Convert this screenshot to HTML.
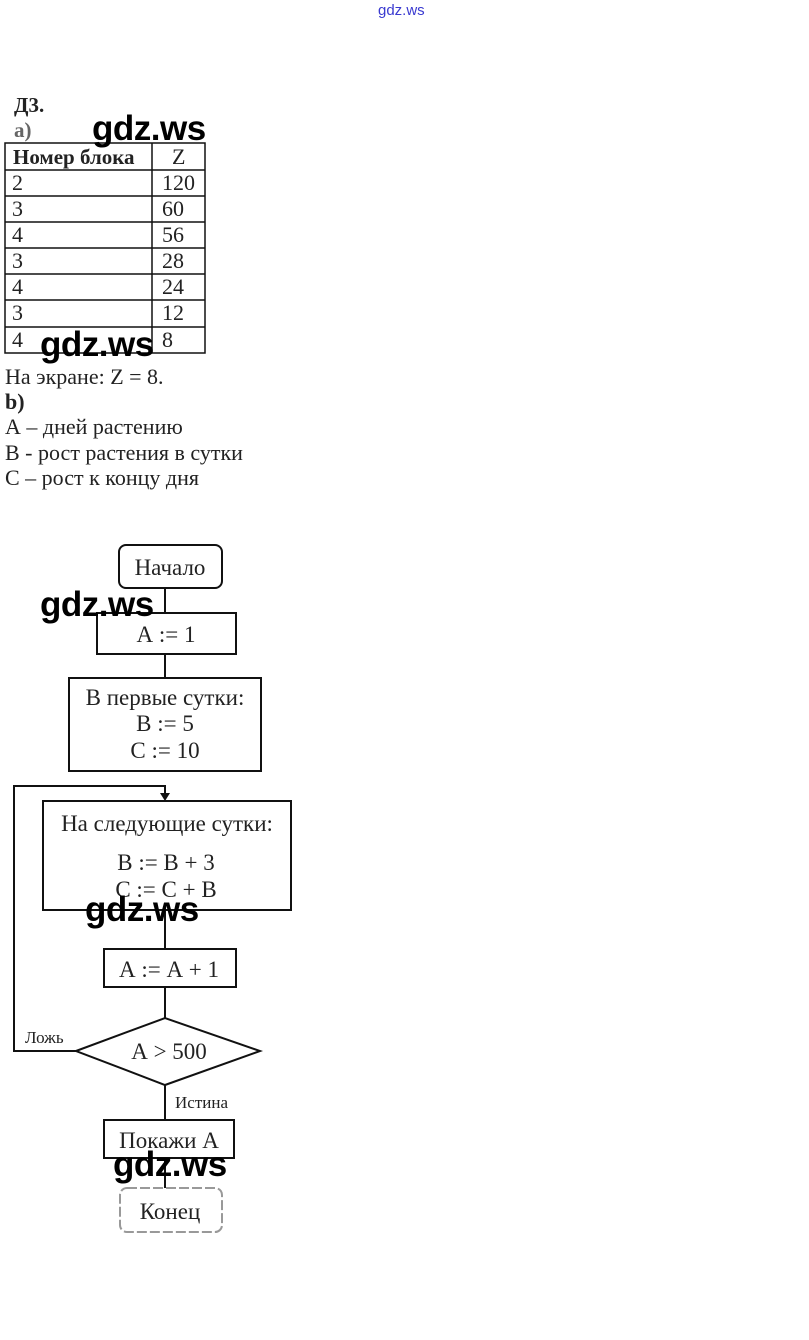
<!DOCTYPE html>
<html><head><meta charset="utf-8"><style>
html,body{margin:0;padding:0;background:#fff;}
body{width:809px;height:1340px;position:relative;overflow:hidden;font-family:"Liberation Serif","DejaVu Serif",serif;color:#222;}
.t{position:absolute;font-size:20px;line-height:1;white-space:nowrap;}
.w{position:absolute;font-family:"Liberation Sans","DejaVu Sans",sans-serif;font-weight:bold;font-size:35px;color:#000;line-height:1;white-space:nowrap;letter-spacing:-0.5px;}
svg{position:absolute;left:0;top:0;}
svg text{font-family:"Liberation Serif","DejaVu Serif",serif;fill:#222;}
</style></head><body>
<div class="t" style="left:378px;top:3px;font-family:'Liberation Sans',sans-serif;font-size:15px;color:#3a3ad0;">gdz.ws</div>
<div class="t" style="left:14px;top:95px;font-weight:bold;font-size:21px;">Д3.</div>
<div class="t" style="left:14px;top:120px;font-weight:bold;color:#666;font-size:21px;">а)</div>
<svg width="809" height="1340" viewBox="0 0 809 1340">
<g stroke="#111" stroke-width="1.5" fill="none">
<rect x="5" y="143" width="200" height="210"/>
<line x1="152" y1="143" x2="152" y2="353"/>
<line x1="5" y1="170" x2="205" y2="170"/>
<line x1="5" y1="196" x2="205" y2="196"/>
<line x1="5" y1="222" x2="205" y2="222"/>
<line x1="5" y1="248" x2="205" y2="248"/>
<line x1="5" y1="274" x2="205" y2="274"/>
<line x1="5" y1="300" x2="205" y2="300"/>
<line x1="5" y1="327" x2="205" y2="327"/>
</g>
<g font-size="22">
<text x="13" y="164" font-weight="bold" fill="#555" font-size="21">Номер блока</text>
<text x="172" y="164" fill="#777">Z</text>
<text x="12" y="190">2</text><text x="162" y="190" fill="#888">120</text>
<text x="12" y="216">3</text><text x="162" y="216">60</text>
<text x="12" y="242">4</text><text x="162" y="242">56</text>
<text x="12" y="268">3</text><text x="162" y="268">28</text>
<text x="12" y="294">4</text><text x="162" y="294">24</text>
<text x="12" y="320">3</text><text x="162" y="320">12</text>
<text x="12" y="347">4</text><text x="162" y="347">8</text>
</g>
<g font-size="22">
<text x="5" y="384">На экране: Z = 8.</text>
<text x="5" y="409" font-weight="bold">b)</text>
<text x="5" y="434">А – дней растению</text>
<text x="5" y="460">В - рост растения в сутки</text>
<text x="5" y="485">С – рост к концу дня</text>
</g>
<g stroke="#111" stroke-width="2" fill="none">
<rect x="119" y="545" width="103" height="43" rx="7"/>
<line x1="165" y1="588" x2="165" y2="613"/>
<rect x="97" y="613" width="139" height="41"/>
<line x1="165" y1="654" x2="165" y2="678"/>
<rect x="69" y="678" width="192" height="93"/>
<polyline points="76,1051 14,1051 14,786 165,786 165,795"/>
<rect x="43" y="801" width="248" height="109"/>
<line x1="165" y1="910" x2="165" y2="949"/>
<rect x="104" y="949" width="132" height="38"/>
<line x1="165" y1="987" x2="165" y2="1018"/>
<polygon points="76,1051 165,1018 260,1051 165,1085"/>
<line x1="165" y1="1085" x2="165" y2="1120"/>
<rect x="104" y="1120" width="130" height="38"/>
<line x1="165" y1="1158" x2="165" y2="1188"/>
<rect x="120" y="1188" width="102" height="44" rx="7" stroke="#999" stroke-dasharray="10,3"/>
</g>
<polygon points="160,793 170,793 165,801" fill="#111"/>
<g font-size="23" text-anchor="middle">
<text x="170" y="575">Начало</text>
<text x="166" y="642" fill="#555">А := 1</text>
<text x="165" y="705" fill="#888">В первые сутки:</text>
<text x="165" y="731" fill="#555">В := 5</text>
<text x="165" y="758">С := 10</text>
<text x="167" y="831">На следующие сутки:</text>
<text x="166" y="870">В := В + 3</text>
<text x="166" y="897" fill="#555">С := С + В</text>
<text x="169" y="977">А := А + 1</text>
<text x="169" y="1059">А &gt; 500</text>
<text x="169" y="1148" fill="#444">Покажи А</text>
<text x="170" y="1219" fill="#999">Конец</text>
</g>
<text x="25" y="1043" font-size="17">Ложь</text>
<text x="175" y="1108" font-size="17">Истина</text>
</svg>
<div class="w" style="left:92px;top:111px;">gdz.ws</div>
<div class="w" style="left:40px;top:327px;">gdz.ws</div>
<div class="w" style="left:40px;top:587px;">gdz.ws</div>
<div class="w" style="left:85px;top:892px;">gdz.ws</div>
<div class="w" style="left:113px;top:1147px;">gdz.ws</div>
</body></html>
